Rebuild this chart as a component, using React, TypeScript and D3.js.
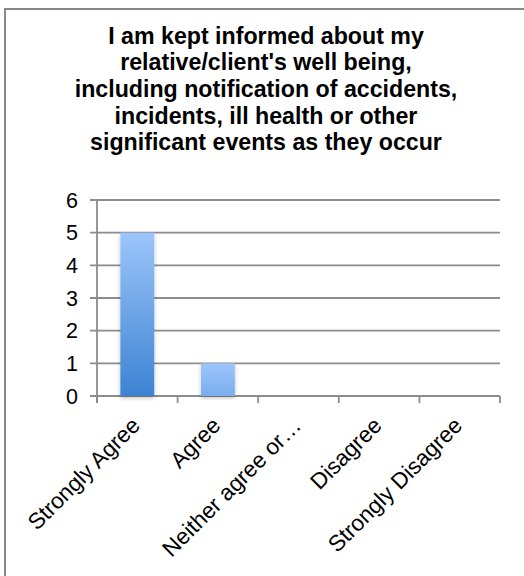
import React from "react";
import * as d3 from "d3";

const categories = ["Strongly Agree", "Agree", "Neither agree or\u2026", "Disagree", "Strongly Disagree"];
const values = [5, 1, 0, 0, 0];
const yTicks = [0, 1, 2, 3, 4, 5, 6];
const titleLines = [
  "I am kept informed about my",
  "relative/client's well being,",
  "including notification of accidents,",
  "incidents, ill health or other",
  "significant events as they occur",
];

const W = 524;
const H = 576;
const plot = { left: 97, right: 500, top: 200, bottom: 396 };
const FONT = "'Liberation Sans', Arial, Helvetica, sans-serif";

export default function App() {
  const x = d3.scaleBand<string>().domain(categories).range([plot.left, plot.right]).paddingInner(0.58).paddingOuter(0.29);
  const xTick = d3.scaleLinear().domain([0, categories.length]).range([plot.left, plot.right]);
  const y = d3.scaleLinear().domain([0, 6]).range([plot.bottom, plot.top]);
  const bottomColor = d3.scaleLinear<string>().domain([0, 5]).range(["#8ab8f5", "#3c83d2"]);
  const grid = "#8c8c8c";

  return (
    <svg width={W} height={H} style={{ position: "absolute", left: 0, top: 0, background: "#fff" }}>
      <defs>
        {values.map((v, i) => (
          <linearGradient key={i} id={`g${i}`} x1="0" y1="0" x2="0" y2="1">
            <stop offset="0" stopColor="#9cc5fb" />
            <stop offset="1" stopColor={bottomColor(v)} />
          </linearGradient>
        ))}
        <filter id="sh" x="-20%" y="-5%" width="140%" height="115%">
          <feGaussianBlur in="SourceAlpha" stdDeviation="2" />
          <feOffset dx="0" dy="2" result="b" />
          <feComponentTransfer><feFuncA type="linear" slope="0.25" /></feComponentTransfer>
          <feMerge><feMergeNode /><feMergeNode in="SourceGraphic" /></feMerge>
        </filter>
      </defs>
      <rect x={0} y={0} width={W} height={H} fill="#fff" />
      <path d={`M5,${H + 5}V9H${W + 5}`} fill="none" stroke="#878787" strokeWidth={2} />
      <g fontFamily={FONT} fontWeight="bold" fontSize={23.2} textAnchor="middle" fill="#000">
        {titleLines.map((t, i) => (
          <text key={i} x={266} y={43.5 + i * 26.7}>{t}</text>
        ))}
      </g>
      {yTicks.map((t) => (
        <g key={t}>
          <line x1={90} x2={plot.right} y1={y(t)} y2={y(t)} stroke={grid} strokeWidth={1.8} />
          <text x={78} y={y(t)} dy="0.36em" textAnchor="end" fontFamily={FONT} fontSize={21.5} fill="#000">{t}</text>
        </g>
      ))}
      <line x1={plot.left} x2={plot.left} y1={plot.top} y2={403} stroke={grid} strokeWidth={1.8} />
      {d3.range(categories.length + 1).map((i) => (
        <line key={i} x1={xTick(i)} x2={xTick(i)} y1={plot.bottom} y2={403} stroke={grid} strokeWidth={1.8} />
      ))}
      {values.map((v, i) =>
        v > 0 ? (
          <rect key={i} x={x(categories[i])} y={y(v)} width={x.bandwidth()} height={y(0) - y(v)} fill={`url(#g${i})`} filter="url(#sh)" />
        ) : null
      )}
      <g fontFamily={FONT} fontSize={22.5} fill="#000">
        {categories.map((c) => {
          const cx = (x(c) as number) + x.bandwidth() / 2 + 4;
          return (
            <text key={c} transform={`translate(${cx},${427}) rotate(-45)`} textAnchor="end">{c}</text>
          );
        })}
      </g>
    </svg>
  );
}
